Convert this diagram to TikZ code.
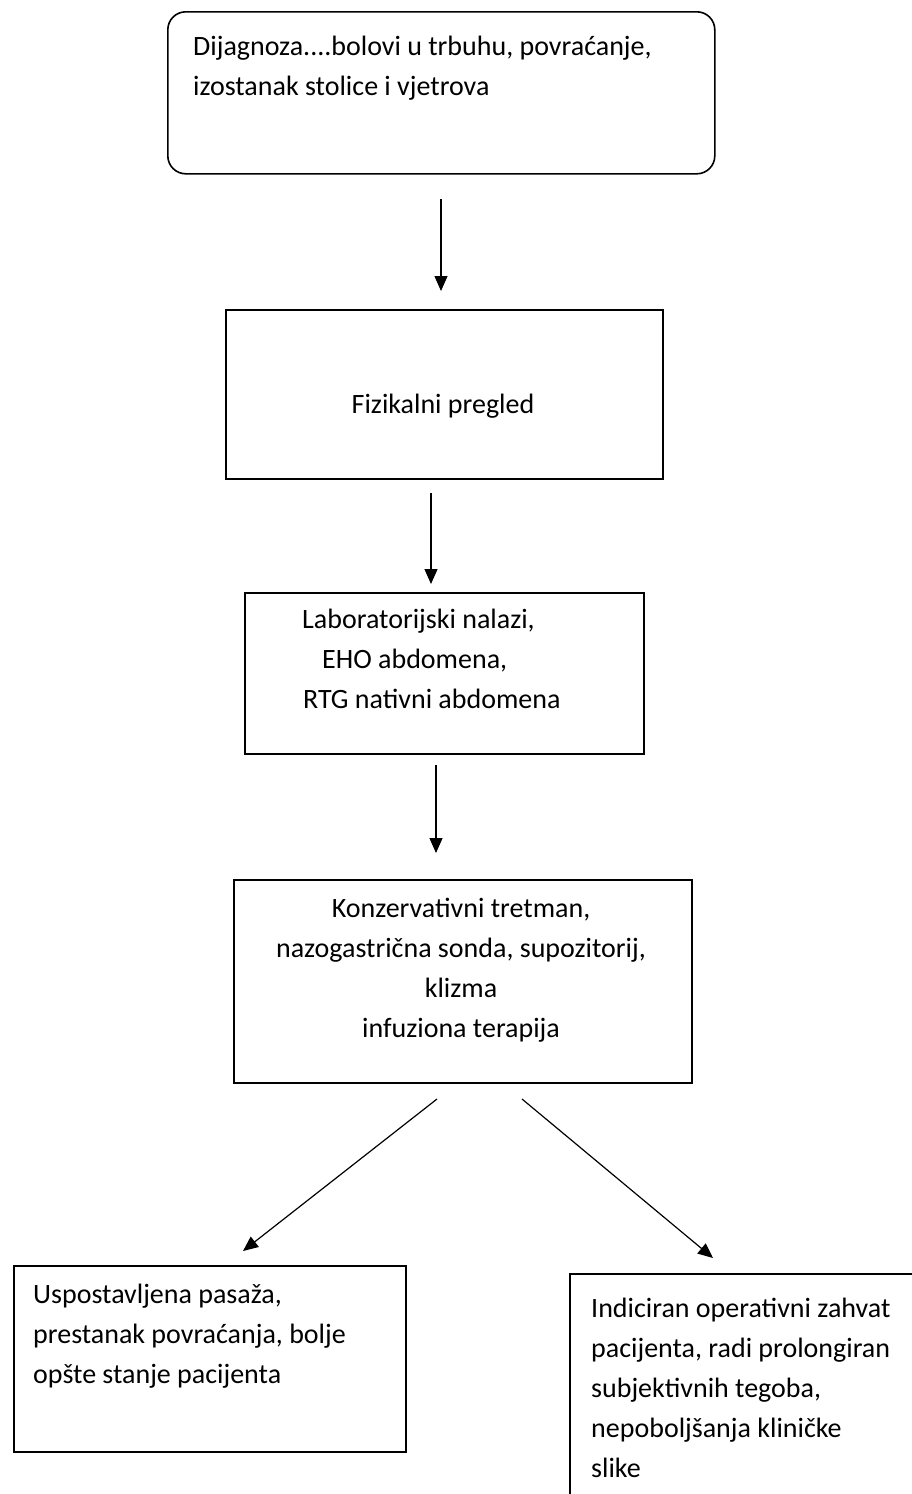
\documentclass[tikz,border=0pt]{standalone}
\usepackage{fontspec}
\setmainfont{Carlito}
\usetikzlibrary{arrows.meta}
\tikzset{
  boxframe/.style={draw=black, line width=1.6pt, inner sep=0pt, anchor=north west, fill=none},
  txt/.style={inner sep=0pt, font=\fontsize{28}{40}\selectfont, text=black},
  flow/.style={draw=black, line width=1.2pt, -{Triangle[length=15pt,width=13pt]}}
}
\begin{document}
\begin{tikzpicture}[x=1pt,y=-1pt]
\useasboundingbox[fill=white] (0,0) rectangle (911,1494);

% boxes
\node[boxframe, rounded corners=18pt, minimum width=547pt, minimum height=162pt] (b1) at (167,11) {};
\node[boxframe, minimum width=437pt, minimum height=169pt] (b2) at (225,309) {};
\node[boxframe, minimum width=399pt, minimum height=161pt] (b3) at (244,592) {};
\node[boxframe, minimum width=458pt, minimum height=203pt] (b4) at (233,879) {};
\node[boxframe, minimum width=392pt, minimum height=186pt] (b5) at (13,1265) {};
\coordinate (r1) at (920,1274);
\coordinate (r2) at (570,1274);
\coordinate (r3) at (570,1500);
\draw[line width=1.6pt] (r1) -- (r2) -- (r3);

% texts
\node[txt, anchor=north west, align=left] (t1) at (193,27)
  {\strut Dijagnoza....bolovi u trbuhu, povraćanje,\\izostanak stolice i vjetrova};
\node[txt, anchor=base] (t2) at (443,413) {Fizikalni pregled};
\node[txt, anchor=north west, align=left] (t3) at (302,600)
  {\strut Laboratorijski nalazi,\\\hspace*{20pt}EHO abdomena,\\\hspace*{1pt}RTG nativni abdomena};
\node[txt, anchor=north, align=center] (t4) at (461,889)
  {\strut Konzervativni tretman,\\nazogastrična sonda, supozitorij,\\klizma\\infuziona terapija};
\node[txt, anchor=north west, align=left] (t5) at (33,1275)
  {\strut Uspostavljena pasaža,\\prestanak povraćanja, bolje\\opšte stanje pacijenta};
\node[txt, anchor=north west, align=left] (t6) at (591,1289)
  {\strut Indiciran operativni zahvat\\pacijenta, radi prolongiran\\subjektivnih tegoba,\\nepoboljšanja kliničke\\slike};

% arrow end points
\coordinate (a1s) at (441,199);
\coordinate (a1e) at (441,291);
\coordinate (a2s) at (431,493);
\coordinate (a2e) at (431,584);
\coordinate (a3s) at (436,765);
\coordinate (a3e) at (436,853);
\coordinate (a4s) at (437,1099);
\coordinate (a4e) at (243,1251);
\coordinate (a5s) at (522,1099);
\coordinate (a5e) at (713,1258);

\draw[flow] (a1s) -- (a1e);
\draw[flow] (a2s) -- (a2e);
\draw[flow] (a3s) -- (a3e);
\draw[flow] (a4s) -- (a4e);
\draw[flow] (a5s) -- (a5e);
\end{tikzpicture}
\end{document}
